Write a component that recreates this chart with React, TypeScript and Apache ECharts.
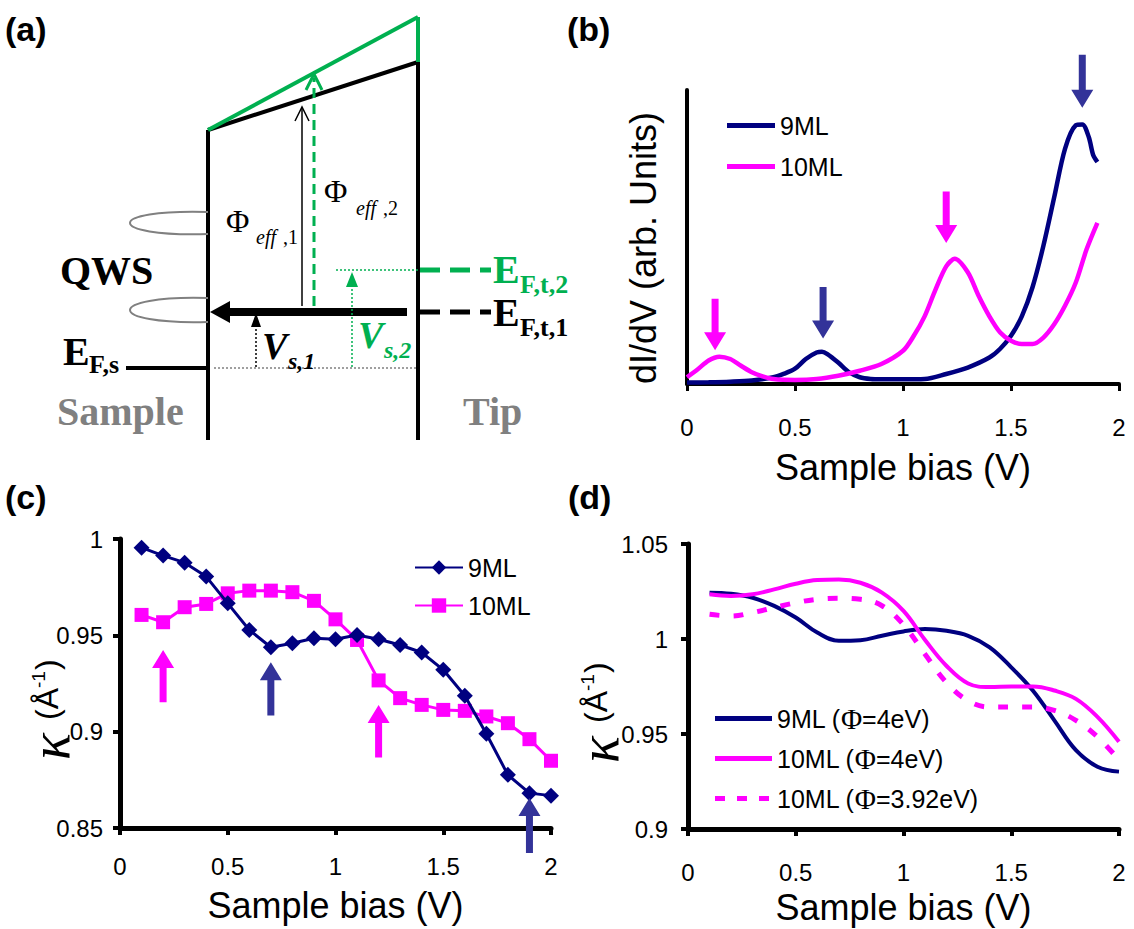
import { useEffect, useRef } from "react";
import * as echarts from "echarts";

// ---------- (b) dI/dV spectra ----------
const bBias9 = [0, 0.1, 0.2, 0.3, 0.4, 0.45, 0.5, 0.55, 0.6, 0.625, 0.65, 0.7, 0.75, 0.8, 0.85, 0.9, 1.0, 1.1, 1.2, 1.3, 1.4, 1.45, 1.5, 1.55, 1.6, 1.65, 1.7, 1.75, 1.8, 1.83, 1.86, 1.88, 1.9];
const bDidv9 = [0.5, 0.6, 0.8, 1.2, 2.3, 3.5, 5.2, 8.5, 10.7, 11, 10.2, 7.3, 4, 2.3, 1.7, 1.6, 1.6, 1.7, 3.4, 5.6, 9, 12, 16.4, 23, 33, 47, 63.5, 80, 88, 88.3, 84, 78, 75.5];
const bBias10 = [0, 0.05, 0.1, 0.15, 0.2, 0.25, 0.3, 0.35, 0.4, 0.5, 0.6, 0.7, 0.8, 0.9, 1.0, 1.05, 1.1, 1.15, 1.2, 1.24, 1.3, 1.35, 1.4, 1.45, 1.5, 1.55, 1.6, 1.65, 1.7, 1.75, 1.8, 1.85, 1.9];
const bDidv10 = [2.3, 5, 8, 9.3, 8.5, 6.2, 4, 2.6, 1.7, 1.4, 1.7, 2.8, 4.5, 6.8, 11.3, 16.4, 23, 32, 40, 42.6, 38, 30, 23, 17.5, 14.7, 13.6, 13.6, 15.8, 20.3, 26.6, 34.5, 45.8, 54.8];
// peak markers: [bias, tail, tip]
const bArrows10 = [[0.13, 29, 11.5], [1.2, 65.5, 48]];
const bArrows9 = [[0.63, 33, 15.5], [1.83, 112, 94]];

// ---------- (c) decay constant from experiment ----------
const cBias = [0.1, 0.2, 0.3, 0.4, 0.5, 0.6, 0.7, 0.8, 0.9, 1.0, 1.1, 1.2, 1.3, 1.4, 1.5, 1.6, 1.7, 1.8, 1.9, 2.0];
const cKappa9 = [0.9955, 0.9914, 0.9877, 0.9805, 0.9666, 0.9528, 0.9438, 0.9459, 0.9485, 0.948, 0.9502, 0.948, 0.945, 0.9411, 0.9321, 0.9186, 0.8989, 0.8776, 0.8681, 0.8668];
const cKappa10 = [0.9606, 0.9568, 0.9646, 0.9663, 0.9718, 0.9732, 0.9732, 0.9724, 0.9679, 0.9583, 0.9476, 0.9266, 0.9174, 0.9139, 0.9113, 0.9108, 0.9079, 0.9044, 0.8961, 0.8849];
const cArrows10 = [[0.2, 0.9153, 0.9424], [1.2, 0.8866, 0.9139]];
const cArrows9 = [[0.7, 0.9084, 0.936], [1.9, 0.837, 0.8656]];

// ---------- (d) decay constant from model ----------
const dBias = [0.1, 0.2, 0.3, 0.4, 0.5, 0.6, 0.7, 0.8, 0.9, 1.0, 1.1, 1.2, 1.3, 1.4, 1.5, 1.6, 1.7, 1.8, 1.9, 2.0];
const dKappa9 = [1.0244, 1.0238, 1.0217, 1.0174, 1.0113, 1.0034, 0.9991, 0.9994, 1.0017, 1.004, 1.0052, 1.0043, 1.0017, 0.9956, 0.9851, 0.9729, 0.9572, 0.9415, 0.9328, 0.9302];
const dKappa10 = [1.0235, 1.0226, 1.0235, 1.0261, 1.0291, 1.031, 1.0313, 1.0296, 1.0244, 1.0148, 0.9995, 0.9858, 0.9766, 0.9747, 0.975, 0.975, 0.9729, 0.9685, 0.959, 0.9459];
const dKappa10b = [1.013, 1.0121, 1.0139, 1.0165, 1.0191, 1.0209, 1.0214, 1.0209, 1.0175, 1.0075, 0.992, 0.977, 0.9675, 0.9642, 0.9642, 0.9642, 0.9624, 0.9572, 0.9485, 0.9363];

const biasTicks = { min: 0, max: 2, interval: 0.5 };

const NAVY = "#000080";
const MAGENTA = "#FF00FF";
const ARROW_BLUE = "#333399";
const GREEN = "#00B050";
const GRAY = "#808080";
const SANS = 'Arial, "Liberation Sans", sans-serif';
const SERIF = '"Times New Roman", "Liberation Serif", serif';
const DASH_ICON = "path://M0 0h10v5H0zM22 0h10v5H22zM44 0h10v5H44zM57 0h0v5h0z";
const TICK_FONT = 24;
const TITLE_FONT = 36;

const zip = (xs: number[], ys: number[]) => xs.map((x, i) => [x, ys[i]]);

// vertical block arrow drawn in data coordinates
const arrowRenderer = (color: string) => (_params: any, api: any) => {
  const x = api.value(0);
  const p0 = api.coord([x, api.value(1)]);
  const p1 = api.coord([x, api.value(2)]);
  const dir = p1[1] > p0[1] ? 1 : -1;
  const H = 18, W = 11, S = 3.5;
  const cx = p1[0];
  const neck = p1[1] - dir * H;
  return {
    type: "polygon",
    shape: {
      points: [
        [cx - S, p0[1]], [cx + S, p0[1]], [cx + S, neck], [cx + W, neck],
        [cx, p1[1]], [cx - W, neck], [cx - S, neck],
      ],
    },
    style: { fill: color },
  };
};

const arrowSeries = (name: string, data: number[][], color: string, axis: number) => ({
  type: "custom",
  name,
  xAxisIndex: axis,
  yAxisIndex: axis,
  data,
  encode: { x: 0, y: [1, 2] },
  renderItem: arrowRenderer(color),
  clip: false,
  z: 5,
  silent: true,
});

const xAxisCommon = (gridIndex: number, lineW: number, margin: number, nameGap: number) => ({
  type: "value",
  gridIndex,
  ...biasTicks,
  name: "Sample bias (V)",
  nameLocation: "middle",
  nameGap,
  nameTextStyle: { fontSize: TITLE_FONT, color: "#000", fontFamily: SANS },
  axisLine: { show: true, onZero: false, lineStyle: { color: "#000", width: lineW } },
  axisTick: { show: true, inside: false, length: 7, lineStyle: { color: "#000", width: lineW - 1 } },
  axisLabel: { fontSize: TICK_FONT, color: "#000", margin, fontFamily: SANS, showMinLabel: true, showMaxLabel: true },
  splitLine: { show: false },
});

// rotated "κ (Å-1)" axis title
const kappaName = (x: number, y: number) => ({
  type: "group",
  x,
  y,
  rotation: Math.PI / 2,
  children: [
    { type: "text", x: -2, y: 3, style: { text: "κ", font: `italic 56px ${SERIF}`, fill: "#000", align: "left", verticalAlign: "middle" } },
    { type: "text", x: 38, y: 0, style: { text: "(Å", font: `32px ${SANS}`, fill: "#000", align: "left", verticalAlign: "middle" } },
    { type: "text", x: 70, y: -9, style: { text: "-1", font: `19px ${SANS}`, fill: "#000", align: "left", verticalAlign: "middle" } },
    { type: "text", x: 88, y: 0, style: { text: ")", font: `32px ${SANS}`, fill: "#000", align: "left", verticalAlign: "middle" } },
  ],
});

const ln = (x1: number, y1: number, x2: number, y2: number, stroke: string, lineWidth: number, lineDash?: number[]) => ({
  type: "line",
  shape: { x1, y1, x2, y2 },
  style: { stroke, lineWidth, lineDash, lineCap: "butt" },
  z: 10,
});

const txt = (text: string, x: number, y: number, font: string, fill = "#000", align = "left") => ({
  type: "text",
  x,
  y,
  style: { text, font, fill, align, verticalAlign: "middle" },
  z: 10,
});

// energy diagram of the tunnel junction
const diagram: any[] = [
  ln(208, 130, 208, 440, "#000", 4),
  ln(418, 60, 418, 440, "#000", 4),
  ln(208, 130, 418, 62, "#000", 4),
  ln(208, 130, 418, 17, GREEN, 4),
  ln(418, 17, 418, 62, GREEN, 4),
  // quantum well states
  { type: "bezierCurve", shape: { x1: 208, y1: 212, cpx1: 104, cpy1: 209, cpx2: 104, cpy2: 237, x2: 208, y2: 234 }, style: { stroke: GRAY, lineWidth: 2, fill: "none" }, z: 10 },
  { type: "bezierCurve", shape: { x1: 208, y1: 298, cpx1: 104, cpy1: 295, cpx2: 104, cpy2: 325, x2: 208, y2: 322 }, style: { stroke: GRAY, lineWidth: 2, fill: "none" }, z: 10 },
  // effective barrier arrows
  ln(302, 306, 302, 108, "#000", 1.5),
  { type: "polyline", shape: { points: [[295, 121], [302, 107], [309, 121]] }, style: { stroke: "#000", lineWidth: 1.5, fill: "none" }, z: 10 },
  ln(314, 306, 314, 78, GREEN, 3, [10, 6]),
  { type: "polyline", shape: { points: [[306, 90], [314, 74], [322, 90]] }, style: { stroke: GREEN, lineWidth: 3, fill: "none" }, z: 10 },
  // tunnelling arrow
  { type: "rect", shape: { x: 226, y: 308, width: 181, height: 8 }, style: { fill: "#000" }, z: 10 },
  { type: "polygon", shape: { points: [[210, 312], [230, 301], [230, 323]] }, style: { fill: "#000" }, z: 10 },
  // tip Fermi levels
  ln(420, 312, 491, 312, "#000", 5, [20, 10]),
  ln(420, 270, 491, 270, GREEN, 5, [20, 10]),
  ln(336, 270, 418, 270, GREEN, 1.5, [2, 2]),
  // bias arrows
  ln(352, 367, 352, 285, GREEN, 1.5, [2, 2]),
  { type: "polygon", shape: { points: [[352, 272], [346, 287], [358, 287]] }, style: { fill: GREEN }, z: 10 },
  ln(256, 367, 256, 325, "#000", 1.5, [2, 2]),
  { type: "polygon", shape: { points: [[256, 313], [251, 327], [261, 327]] }, style: { fill: "#000" }, z: 10 },
  // sample Fermi level
  ln(126, 368, 208, 368, "#000", 4),
  ln(214, 368, 418, 368, GRAY, 1.5, [2, 2]),
  // labels
  txt("Φ", 226, 221, `32px ${SERIF}`),
  txt("eff", 256, 237, `italic 20px ${SERIF}`),
  txt(" ,1", 278, 237, `20px ${SERIF}`),
  txt("Φ", 324, 191, `32px ${SERIF}`),
  txt("eff", 356, 208, `italic 20px ${SERIF}`),
  txt(" ,2", 378, 208, `20px ${SERIF}`),
  txt("QWS", 60, 270, `bold 40px ${SERIF}`),
  txt("E", 493, 269, `bold 40px ${SERIF}`, GREEN),
  txt("F,t,2", 520, 284, `bold 26px ${SERIF}`, GREEN),
  txt("E", 493, 312, `bold 40px ${SERIF}`),
  txt("F,t,1", 520, 327, `bold 26px ${SERIF}`),
  txt("E", 63, 351, `bold 40px ${SERIF}`),
  txt("F,s", 89, 364, `bold 26px ${SERIF}`),
  txt("V", 262, 346, `italic bold 38px ${SERIF}`),
  txt("s,1", 288, 361, `italic bold 24px ${SERIF}`),
  txt("V", 358, 335, `italic bold 38px ${SERIF}`, GREEN),
  txt("s,2", 384, 350, `italic bold 24px ${SERIF}`, GREEN),
  txt("Sample", 57, 411, `bold 40px ${SERIF}`, GRAY),
  txt("Tip", 463, 411, `bold 40px ${SERIF}`, GRAY),
];

const panelLabels = [
  txt("(a)", 5, 29, `bold 34px ${SANS}`),
  txt("(b)", 567, 29, `bold 34px ${SANS}`),
  txt("(c)", 5, 497, `bold 34px ${SANS}`),
  txt("(d)", 568, 497, `bold 34px ${SANS}`),
];

const legendText = { fontSize: 25, color: "#000", lineHeight: 27, fontFamily: SANS };

const option: any = {
  animation: false,
  backgroundColor: "#fff",
  textStyle: { fontFamily: SANS },
  grid: [
    { left: 687, right: 15, top: 90, bottom: 545, containLabel: false, outerBoundsMode: "none" },
    { left: 120, right: 583, top: 539, bottom: 101, containLabel: false, outerBoundsMode: "none" },
    { left: 688, right: 15, top: 544, bottom: 100, containLabel: false, outerBoundsMode: "none" },
  ],
  xAxis: [
    xAxisCommon(0, 4, 31, 65),
    xAxisCommon(1, 5, 26, 59),
    xAxisCommon(2, 5, 31, 60),
  ],
  yAxis: [
    {
      type: "value", gridIndex: 0, min: 0, max: 100,
      axisLine: { show: true, lineStyle: { color: "#000", width: 4 } },
      axisTick: { show: false }, axisLabel: { show: false }, splitLine: { show: false },
    },
    {
      type: "value", gridIndex: 1, min: 0.85, max: 1, interval: 0.05,
      axisLine: { show: true, lineStyle: { color: "#000", width: 5 } },
      axisTick: { show: true, length: 7, lineStyle: { color: "#000", width: 4 } },
      axisLabel: { fontSize: TICK_FONT, color: "#000", margin: 17, fontFamily: SANS, showMinLabel: true, showMaxLabel: true },
      splitLine: { show: false },
    },
    {
      type: "value", gridIndex: 2, min: 0.9, max: 1.05, interval: 0.05,
      axisLine: { show: true, lineStyle: { color: "#000", width: 5 } },
      axisTick: { show: true, length: 7, lineStyle: { color: "#000", width: 4 } },
      axisLabel: { fontSize: TICK_FONT, color: "#000", margin: 20, fontFamily: SANS, showMinLabel: true, showMaxLabel: true },
      splitLine: { show: false },
    },
  ],
  legend: [
    {
      data: [{ name: "9ML", icon: "rect" }, { name: "10ML", icon: "rect" }],
      orient: "vertical", left: 727, top: 112, padding: 0,
      itemWidth: 48, itemHeight: 5, itemGap: 14, itemTextGap: 6,
      symbolKeepAspect: false,
      textStyle: legendText,
      selectedMode: false,
    },
    {
      data: ["9ML ", "10ML "], orient: "vertical", left: 414, top: 554, padding: 0,
      itemWidth: 48, itemHeight: 18, itemGap: 11, itemTextGap: 6,
      formatter: (n: string) => n.trim(),
      textStyle: legendText,
      selectedMode: false,
    },
    {
      data: [
        { name: "9ML (Φ=4eV)", icon: "rect" },
        { name: "10ML (Φ=4eV)", icon: "rect" },
        { name: "10ML (Φ=3.92eV)", icon: DASH_ICON },
      ],
      orient: "vertical", left: 715, top: 704, padding: 0,
      itemWidth: 57, itemHeight: 5, itemGap: 11, itemTextGap: 6,
      symbolKeepAspect: false,
      formatter: (n: string) => n.replace("Φ", "{p|Φ}"),
      textStyle: {
        ...legendText,
        rich: { p: { fontSize: 29, fontFamily: SERIF, color: "#000", lineHeight: 27 } },
      },
      selectedMode: false,
    },
  ],
  graphic: [
    ...diagram,
    ...panelLabels,
    { type: "text", x: 643, y: 248, rotation: Math.PI / 2, style: { text: "dI/dV (arb. Units)", font: `36px ${SANS}`, fill: "#000", align: "center", verticalAlign: "middle" }, z: 10 },
    kappaName(47, 758),
    kappaName(596, 761),
  ],
  series: [
    // (b)
    { type: "line", name: "9ML", xAxisIndex: 0, yAxisIndex: 0, data: zip(bBias9, bDidv9), smooth: 0.3, symbol: "none", lineStyle: { color: NAVY, width: 4.5 }, itemStyle: { color: NAVY }, z: 3 },
    { type: "line", name: "10ML", xAxisIndex: 0, yAxisIndex: 0, data: zip(bBias10, bDidv10), smooth: 0.3, symbol: "none", lineStyle: { color: MAGENTA, width: 4.5 }, itemStyle: { color: MAGENTA }, z: 3 },
    arrowSeries("b-arrows-10", bArrows10, MAGENTA, 0),
    arrowSeries("b-arrows-9", bArrows9, ARROW_BLUE, 0),
    // (c)
    { type: "line", name: "9ML ", xAxisIndex: 1, yAxisIndex: 1, data: zip(cBias, cKappa9), symbol: "diamond", symbolSize: 16, lineStyle: { color: NAVY, width: 3 }, itemStyle: { color: NAVY }, clip: false, z: 4 },
    { type: "line", name: "10ML ", xAxisIndex: 1, yAxisIndex: 1, data: zip(cBias, cKappa10), symbol: "rect", symbolSize: 14, lineStyle: { color: MAGENTA, width: 3 }, itemStyle: { color: MAGENTA }, clip: false, z: 3 },
    arrowSeries("c-arrows-10", cArrows10, MAGENTA, 1),
    arrowSeries("c-arrows-9", cArrows9, ARROW_BLUE, 1),
    // (d)
    { type: "line", name: "9ML (Φ=4eV)", xAxisIndex: 2, yAxisIndex: 2, data: zip(dBias, dKappa9), smooth: 0.4, symbol: "none", lineStyle: { color: NAVY, width: 4 }, itemStyle: { color: NAVY }, z: 3 },
    { type: "line", name: "10ML (Φ=4eV)", xAxisIndex: 2, yAxisIndex: 2, data: zip(dBias, dKappa10), smooth: 0.4, symbol: "none", lineStyle: { color: MAGENTA, width: 4 }, itemStyle: { color: MAGENTA }, z: 3 },
    { type: "line", name: "10ML (Φ=3.92eV)", xAxisIndex: 2, yAxisIndex: 2, data: zip(dBias, dKappa10b), smooth: 0.4, symbol: "none", lineStyle: { color: MAGENTA, width: 5, type: [10, 14] }, itemStyle: { color: MAGENTA }, z: 3 },
  ],
};

export default function App() {
  const ref = useRef<HTMLDivElement>(null);
  useEffect(() => {
    const chart = echarts.init(ref.current!, undefined, { renderer: "svg" });
    chart.setOption(option);
    return () => chart.dispose();
  }, []);
  return (
    <div
      ref={ref}
      style={{ position: "absolute", left: 0, top: 0, width: 1134, height: 929, background: "#fff" }}
    />
  );
}
